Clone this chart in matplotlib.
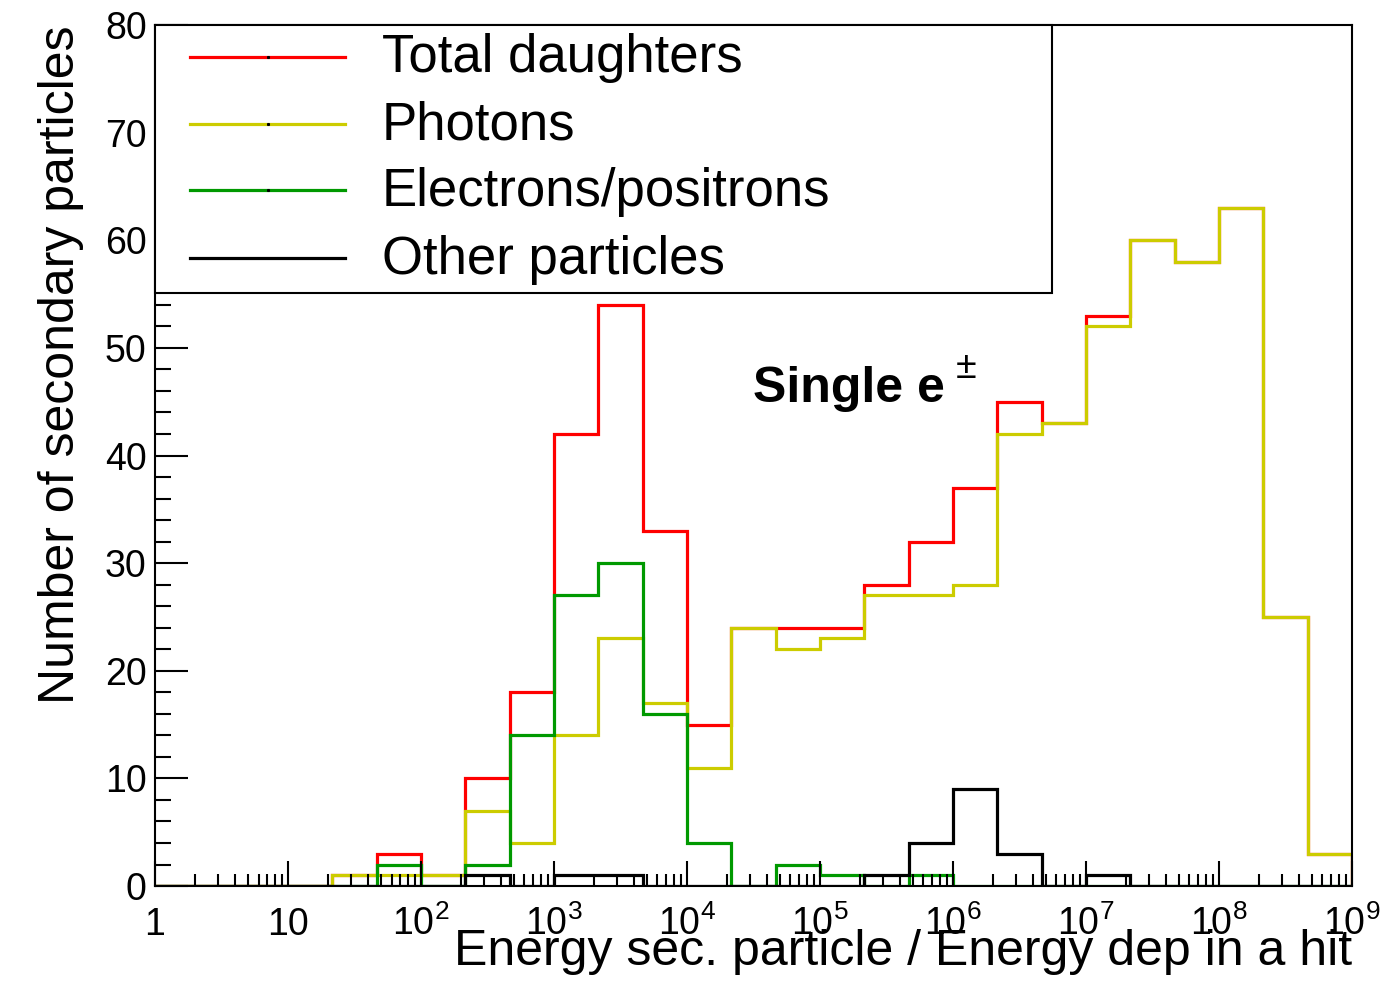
import numpy as np
import matplotlib
matplotlib.use("Agg")
import matplotlib.pyplot as plt
from matplotlib.patches import Rectangle
from matplotlib.ticker import LogLocator, MultipleLocator, NullFormatter

# --- data: 27 bins, three per decade from 1 to 1e9 ---
edges = np.logspace(0, 9, 28)

total     = [0, 0, 0, 0, 1, 3, 1, 10, 18, 42, 54, 33, 15, 24, 24, 24, 28, 32, 37, 45, 43, 53, 60, 58, 63, 25, 3]
photons   = [0, 0, 0, 0, 1, 1, 1, 7, 4, 14, 23, 17, 11, 24, 22, 23, 27, 27, 28, 42, 43, 52, 60, 58, 63, 25, 3]
electrons = [0, 0, 0, 0, 0, 2, 0, 2, 14, 27, 30, 16, 4, 0, 2, 1, 0, 1, 0, 0, 0, 0, 0, 0, 0, 0, 0]
others    = [0, 0, 0, 0, 0, 0, 0, 1, 0, 1, 1, 0, 0, 0, 0, 0, 1, 4, 9, 3, 0, 1, 0, 0, 0, 0, 0]

labels = ["Total daughters", "Photons", "Electrons/positrons", "Other particles"]
colors = ["#ff0000", "#cccc00", "#009900", "#000000"]

xtick_pos = [10.0 ** k for k in range(10)]
xtick_lab = ["1", "10"] + [r"$\mathregular{10^{%d}}$" % k for k in range(2, 10)]

plt.rcParams["font.family"] = ["Liberation Sans", "DejaVu Sans"]
plt.rcParams["mathtext.fontset"] = "custom"
plt.rcParams["mathtext.rm"] = "Liberation Sans"
plt.rcParams["mathtext.bf"] = "Liberation Sans:bold"

fig = plt.figure(figsize=(13.99, 9.81), dpi=100)
ax = fig.add_axes([0.1108, 0.0968, 0.8556, 0.8777])

for vals, c in zip([total, photons, electrons, others], colors):
    ax.stairs(vals, edges, color=c, lw=2.3, baseline=0)

ax.set_xscale("log")
ax.set_xlim(1, 1e9)
ax.set_ylim(0, 80)

for s in ax.spines.values():
    s.set_linewidth(1.5)

# y axis ticks (ROOT style, inward)
ax.yaxis.set_major_locator(MultipleLocator(10))
ax.yaxis.set_minor_locator(MultipleLocator(2))
ax.tick_params(axis="y", which="major", direction="in", length=24, width=1.5,
               labelsize=27, pad=6, right=False)
ax.tick_params(axis="y", which="minor", direction="in", length=11.5, width=1.5, right=False)

# x axis ticks
ax.set_xticks(xtick_pos, xtick_lab)
ax.xaxis.set_minor_locator(LogLocator(base=10, subs=np.arange(2, 10)))
ax.xaxis.set_minor_formatter(NullFormatter())
ax.tick_params(axis="x", which="major", direction="in", length=18, width=1.5,
               labelsize=27, pad=35, top=False)
ax.tick_params(axis="x", which="minor", direction="in", length=8.6, width=1.5, top=False)
for t in ax.xaxis.get_major_ticks():
    t.label1.set_verticalalignment("baseline")

ax.set_xlabel("Energy sec. particle / Energy dep in a hit", fontsize=36, loc="right")
ax.xaxis.set_label_coords(1.0, -0.05)
ax.set_ylabel("Number of secondary particles", fontsize=36, loc="top")
ax.yaxis.set_label_coords(-0.059, 1.0)

ax.text(0.4996, 0.562, "Single e", transform=ax.transAxes,
        fontsize=36, fontweight="bold", va="baseline", ha="left")
ax.text(0.669, 0.590, "\u00b1", transform=ax.transAxes,
        fontsize=27, va="baseline", ha="left")

# legend box, ROOT TLegend look
ax.add_patch(Rectangle((0, 0.6887), 0.7494, 0.3113, transform=ax.transAxes,
                       facecolor="white", edgecolor="black", lw=1.5, zorder=5,
                       clip_on=False))
rows_y = [0.963, 0.885, 0.808, 0.729]
for lab, c, yy in zip(labels, colors, rows_y):
    ax.plot([0.0292, 0.1587], [yy, yy], color=c, lw=2.3, transform=ax.transAxes,
            zorder=6, clip_on=False)
    if c != "#000000":
        ax.plot([0.0940], [yy], marker="s", ms=1.2, color="k",
                transform=ax.transAxes, zorder=7)
    ax.text(0.1896, yy + 0.005, lab, fontsize=38, va="center_baseline", ha="left",
            transform=ax.transAxes, zorder=7)

fig.savefig("out.png", dpi=100)
